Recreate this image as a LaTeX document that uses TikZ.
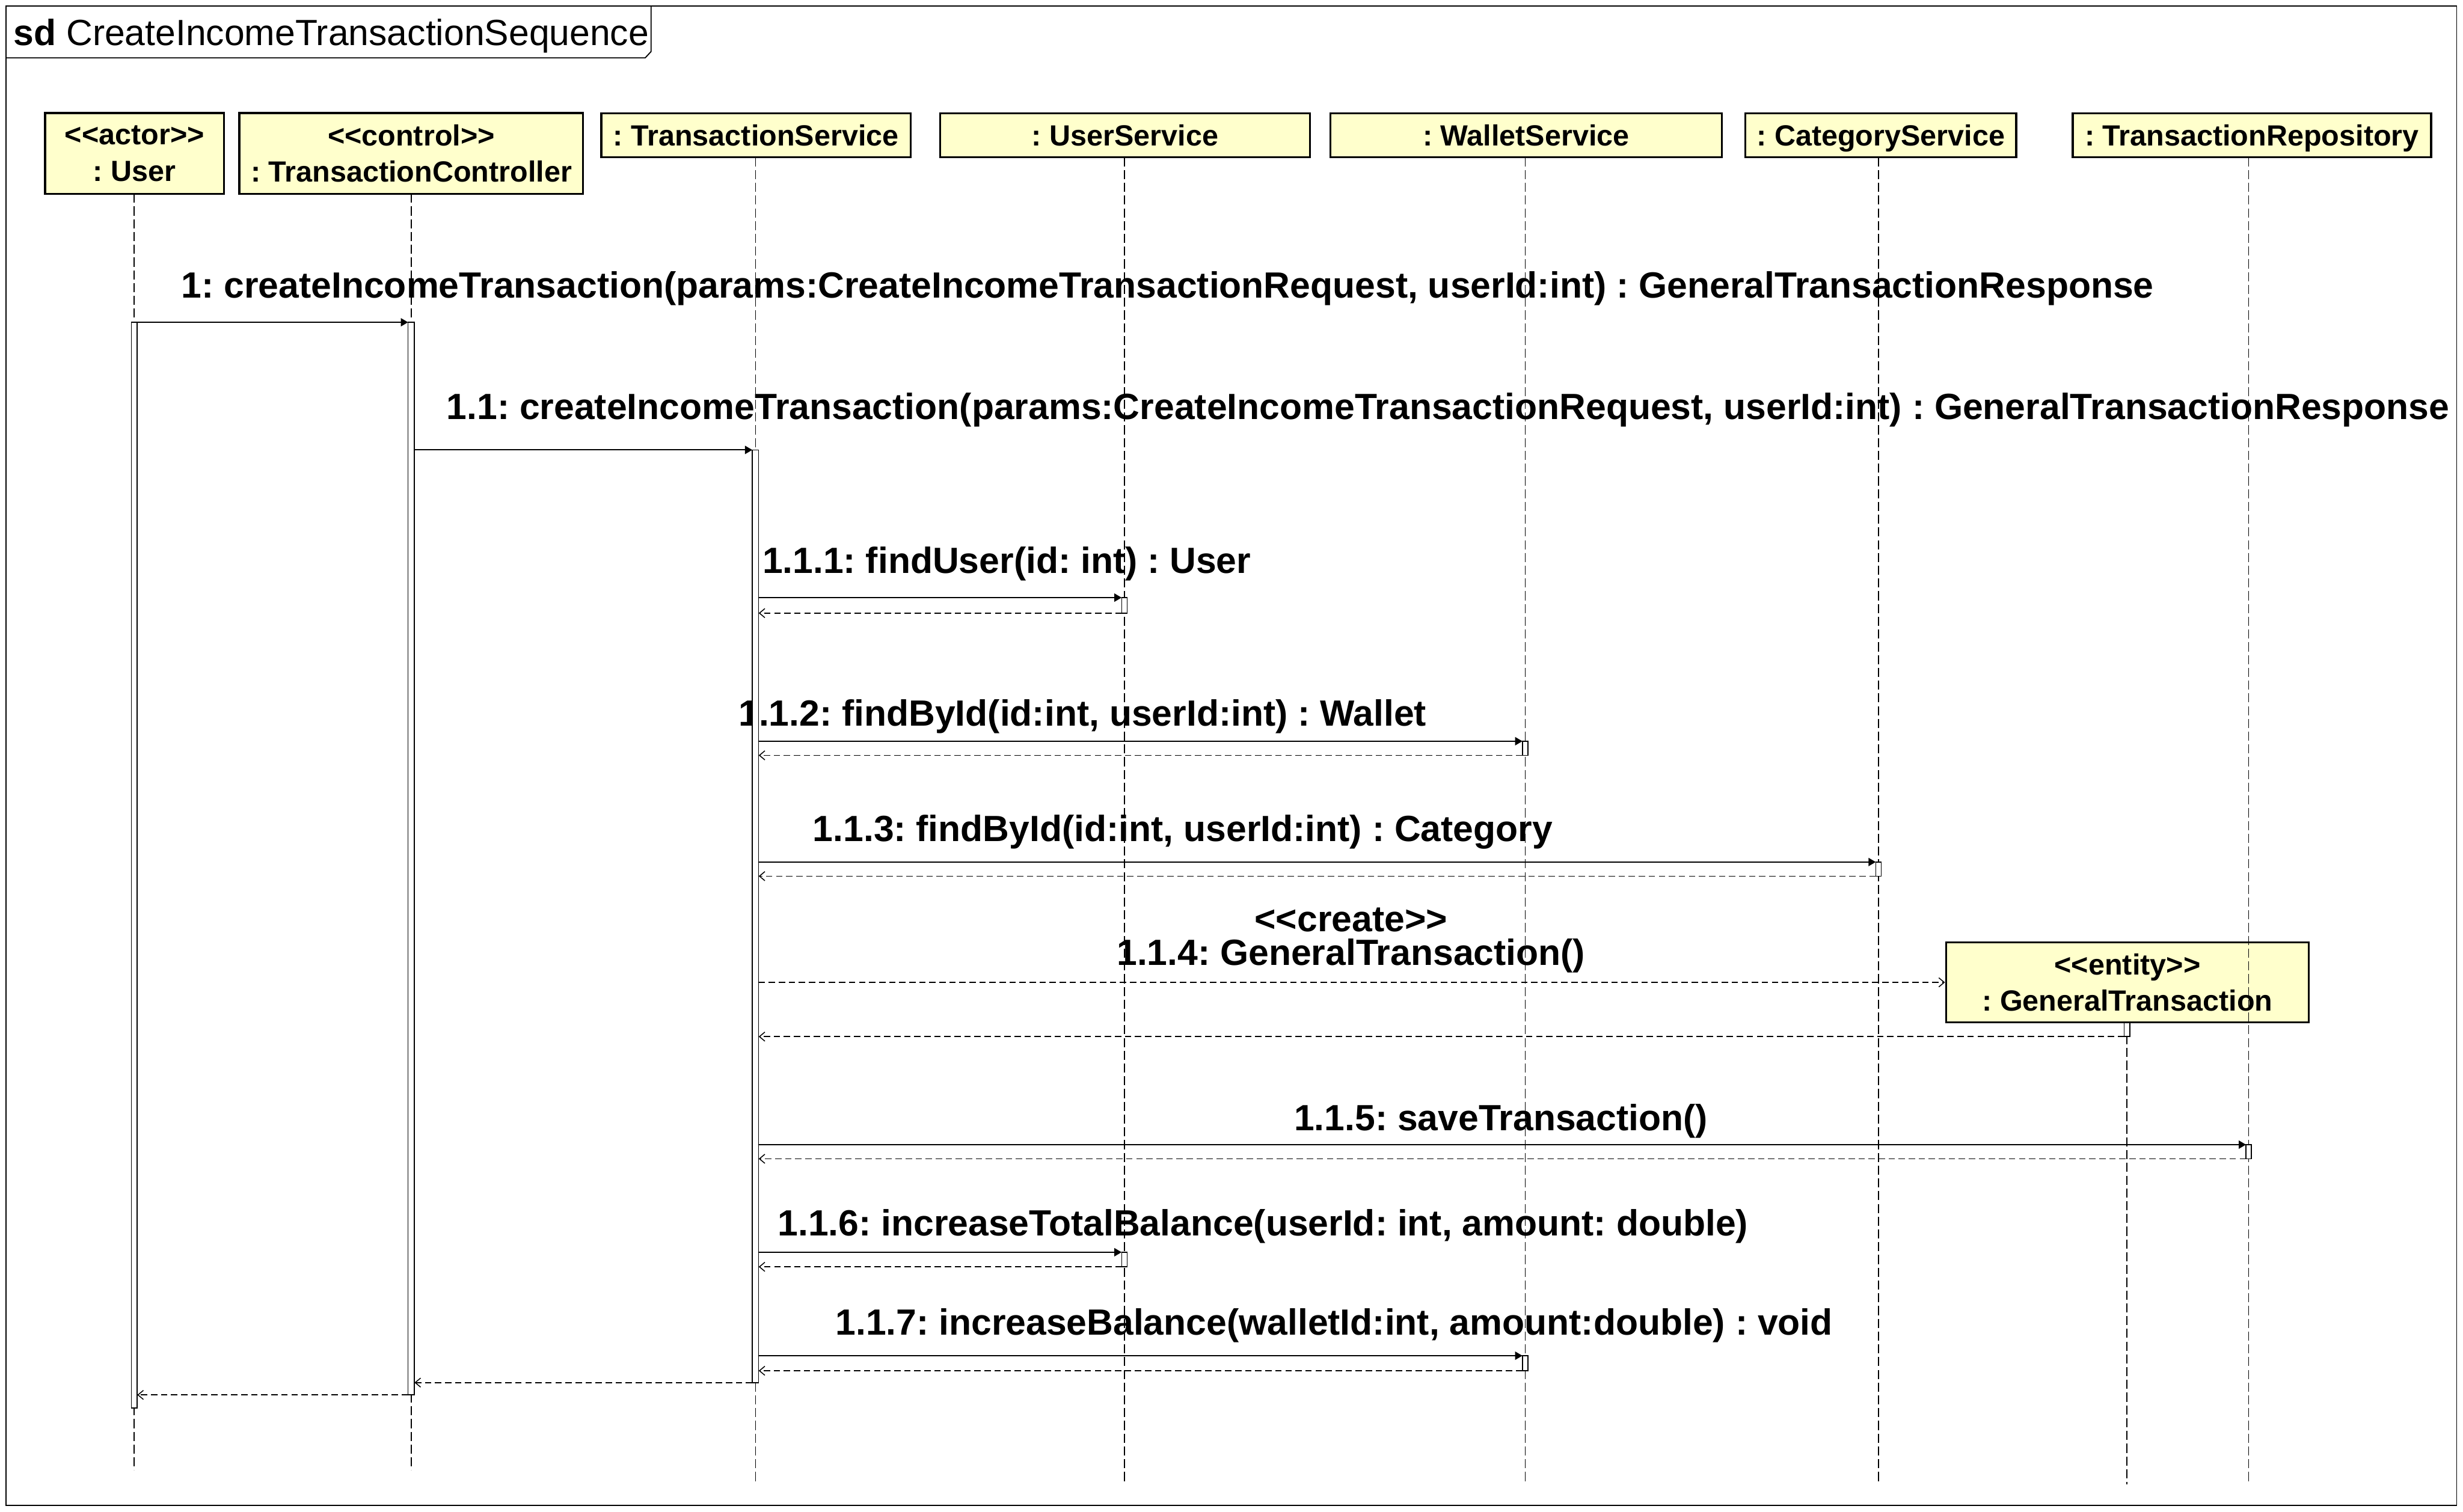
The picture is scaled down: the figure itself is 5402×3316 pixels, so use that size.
\documentclass[tikz,border=0pt]{standalone}
\usepackage{fontspec}
\setmainfont{Liberation Sans}
\usetikzlibrary{arrows.meta}
\definecolor{objyellow}{RGB}{255,255,204}
\frenchspacing
\begin{document}
\begin{tikzpicture}[x=0.25pt,y=-0.25pt,
  obj/.style={draw, line width=1.1pt, fill=objyellow, inner sep=0pt, align=center,
    font=\fontsize{16}{20}\selectfont\bfseries},
  oneline/.style={obj, minimum height=24pt, text height=12pt, text depth=0.5pt},
  lifeline/.style={dash pattern=on 5pt off 2pt, line width=0.5pt},
  act/.style={draw, fill=white, line width=0.5pt},
  call/.style={-{Triangle[length=4pt,width=4.5pt]}, line width=0.6pt},
  ret/.style={-{Straight Barb[length=3pt,width=5pt]}, dash pattern=on 3.5pt off 2pt, line width=0.5pt},
  msg/.style={font=\fontsize{20}{24}\selectfont\bfseries, inner sep=0pt, anchor=base}]
\useasboundingbox (0,0) rectangle (5402,3316);

% frame
\draw[line width=0.6pt] (13,13) rectangle (5388,3302);
\draw[line width=0.6pt] (13,127) -- (1415,127) -- (1428,113) -- (1428,13);
\node[anchor=base west, inner sep=0pt, font=\fontsize{20}{24}\selectfont] (title) at (29,100) {\textbf{sd} CreateIncomeTransactionSequence};

% message labels
\node[msg] (l1)  at (2561,653)  {1: createIncomeTransaction(params:CreateIncomeTransactionRequest, userId:int) : GeneralTransactionResponse};
\node[msg] (l11) at (3176,920)  {1.1: createIncomeTransaction(params:CreateIncomeTransactionRequest, userId:int) : GeneralTransactionResponse};
\node[msg] (l111) at (2208,1257) {1.1.1: findUser(id: int) : User};
\node[msg] (l112) at (2374,1593) {1.1.2: findById(id:int, userId:int) : Wallet};
\node[msg] (l113) at (2594,1846) {1.1.3: findById(id:int, userId:int) : Category};
\node[msg] (l114s) at (2963,2043) {<{}<create>{}>};
\node[msg] (l114) at (2963,2118) {1.1.4: GeneralTransaction()};
\node[msg] (l115) at (3292,2480) {1.1.5: saveTransaction()};
\node[msg] (l116) at (2770,2711) {1.1.6: increaseTotalBalance(userId: int, amount: double)};
\node[msg] (l117) at (2926,2928) {1.1.7: increaseBalance(walletId:int, amount:double) : void};

% header boxes
\node[obj, minimum width=98pt, minimum height=44.25pt] (user) at (295,336.5) {<{}<actor>{}>\\: User};
\node[obj, minimum width=188.5pt, minimum height=44.25pt] (ctrl) at (902,336.5) {<{}<control>{}>\\: TransactionController};
\node[oneline, minimum width=169.5pt] (ts) at (1658,297) {: TransactionService};
\node[oneline, minimum width=202.75pt] (us) at (2467.5,297) {: UserService};
\node[oneline, minimum width=214.75pt] (ws) at (3347,297) {: WalletService};
\node[oneline, minimum width=148.5pt] (cs) at (4125,297) {: CategoryService};
\node[oneline, minimum width=196.5pt] (tr) at (4939,297) {: TransactionRepository};
\node[obj, minimum width=199pt, minimum height=44pt] (gt) at (4666,2155) {<{}<entity>{}>\\: GeneralTransaction};

% lifelines
\coordinate (userEnd) at (294,3225);
\coordinate (ctrlEnd) at (902,3225);
\coordinate (tsEnd) at (1657,3252);
\coordinate (usEnd) at (2466,3252);
\coordinate (wsEnd) at (3345,3252);
\coordinate (csEnd) at (4120,3252);
\coordinate (trEnd) at (4932,3252);
\coordinate (gtEnd) at (4665,3256);
\draw[lifeline] (294,425) -- (userEnd);
\draw[lifeline] (902,425) -- (ctrlEnd);
\draw[lifeline] (1657,345) -- (tsEnd);
\draw[lifeline] (2466,345) -- (usEnd);
\draw[lifeline] (3345,345) -- (wsEnd);
\draw[lifeline] (4120,345) -- (csEnd);
\draw[lifeline] (4932,345) -- (trEnd);
\draw[lifeline] (4665,2243) -- (gtEnd);

% activation bars
\draw[act] (288,707) rectangle (301,3089);
\draw[act] (895,707) rectangle (909,3060);
\draw[act] (1650,987) rectangle (1664,3033);
\draw[act] (2460,1311) rectangle (2472,1345);
\draw[act] (3339,1626) rectangle (3351,1657);
\draw[act] (4114,1891) rectangle (4126,1922);
\draw[act] (4659,2243) rectangle (4671,2274);
\draw[act] (4926,2511) rectangle (4938,2542);
\draw[act] (2460,2747) rectangle (2472,2779);
\draw[act] (3339,2974) rectangle (3351,3007);

% message end points
\coordinate (a1s) at (301,707);   \coordinate (a1e) at (895,707);
\coordinate (a11s) at (909,987);  \coordinate (a11e) at (1650,987);
\coordinate (a111s) at (1664,1311); \coordinate (a111e) at (2460,1311);
\coordinate (r111s) at (2460,1345); \coordinate (r111e) at (1664,1345);
\coordinate (a112s) at (1664,1626); \coordinate (a112e) at (3339,1626);
\coordinate (r112s) at (3339,1657); \coordinate (r112e) at (1664,1657);
\coordinate (a113s) at (1664,1891); \coordinate (a113e) at (4114,1891);
\coordinate (r113s) at (4114,1922); \coordinate (r113e) at (1664,1922);
\coordinate (a114s) at (1664,2155);
\coordinate (r114s) at (4659,2274); \coordinate (r114e) at (1664,2274);
\coordinate (a115s) at (1664,2511); \coordinate (a115e) at (4926,2511);
\coordinate (r115s) at (4926,2542); \coordinate (r115e) at (1664,2542);
\coordinate (a116s) at (1664,2747); \coordinate (a116e) at (2460,2747);
\coordinate (r116s) at (2460,2779); \coordinate (r116e) at (1664,2779);
\coordinate (a117s) at (1664,2974); \coordinate (a117e) at (3339,2974);
\coordinate (r117s) at (3339,3007); \coordinate (r117e) at (1664,3007);
\coordinate (r11s) at (1650,3033); \coordinate (r11e) at (909,3033);
\coordinate (r1s) at (895,3060);   \coordinate (r1e) at (301,3060);

% messages
\draw[call] (a1s) -- (a1e);
\draw[call] (a11s) -- (a11e);
\draw[call] (a111s) -- (a111e);
\draw[ret] (r111s) -- (r111e);
\draw[call] (a112s) -- (a112e);
\draw[ret] (r112s) -- (r112e);
\draw[call] (a113s) -- (a113e);
\draw[ret] (r113s) -- (r113e);
\draw[ret] (a114s) -- (gt.west);
\draw[ret] (r114s) -- (r114e);
\draw[call] (a115s) -- (a115e);
\draw[ret] (r115s) -- (r115e);
\draw[call] (a116s) -- (a116e);
\draw[ret] (r116s) -- (r116e);
\draw[call] (a117s) -- (a117e);
\draw[ret] (r117s) -- (r117e);
\draw[ret] (r11s) -- (r11e);
\draw[ret] (r1s) -- (r1e);
\end{tikzpicture}
\end{document}
